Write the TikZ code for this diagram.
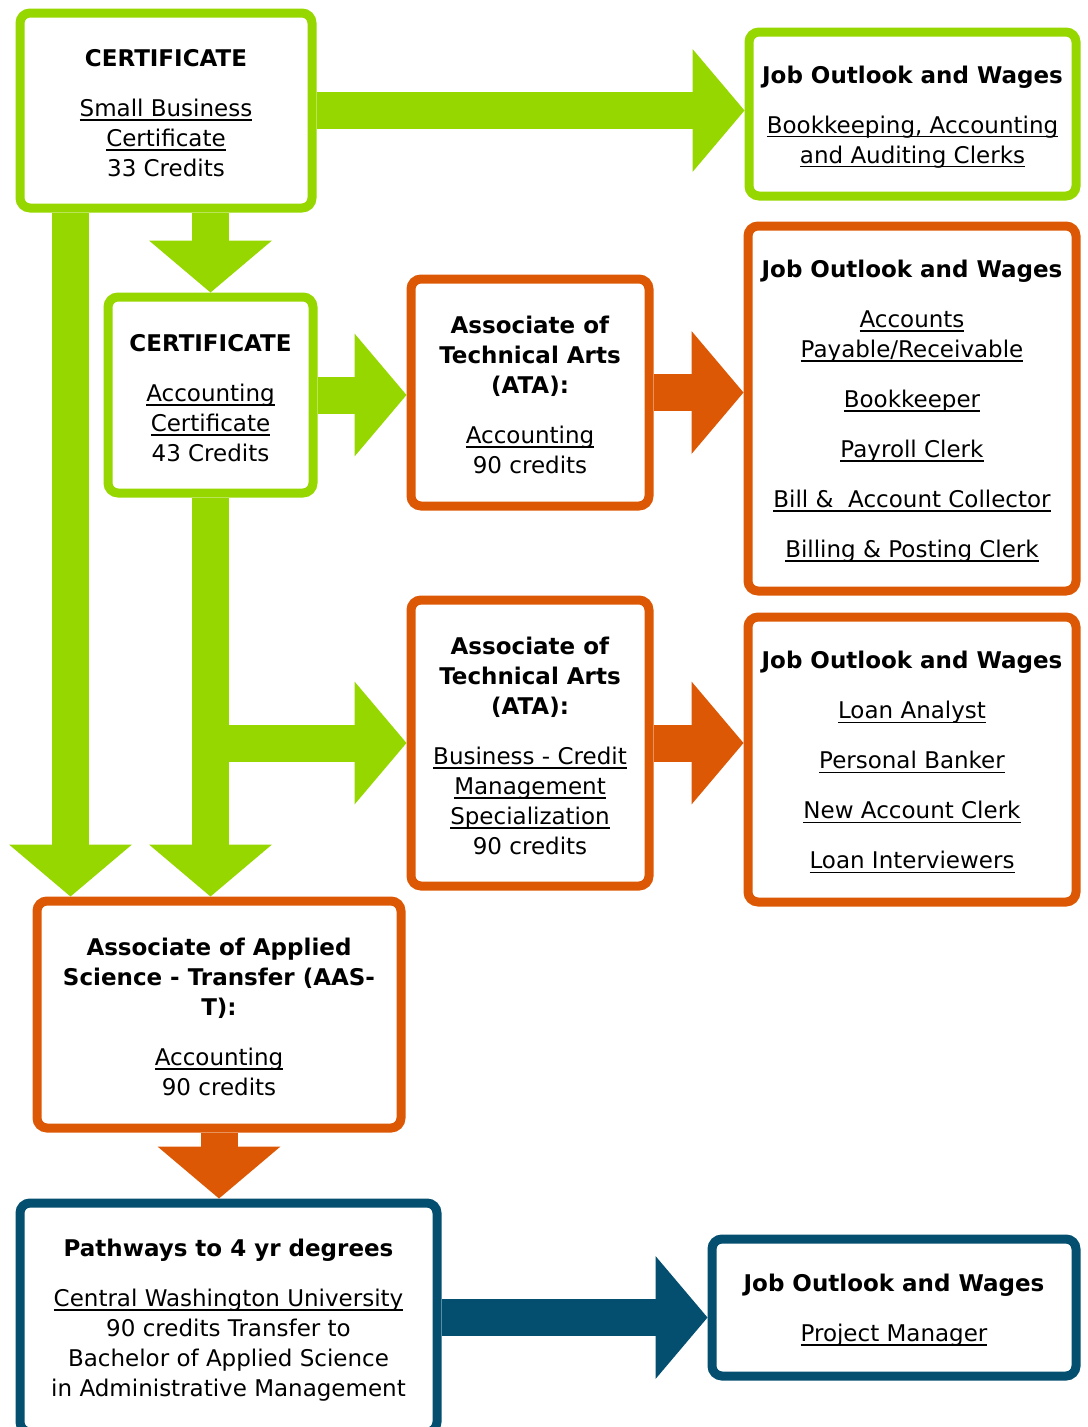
\documentclass[tikz,border=0pt]{standalone}
\usepackage{fontspec}
\setmainfont{DejaVu Sans}
\usetikzlibrary{arrows.meta}
\definecolor{cgreen}{RGB}{151,215,0}
\definecolor{corange}{RGB}{220,88,5}
\definecolor{cblue}{RGB}{4,78,111}
\newcommand\lnk[1]{\setbox0\hbox{#1}\rlap{\rule[-4.2pt]{\wd0}{1.6pt}}\box0}
\newcommand\hd[1]{\rule{0pt}{23pt}\textbf{#1}}

\begin{document}
\begin{tikzpicture}[x=1pt,y=-1pt]
\tikzstyle{box}=[draw,fill=white,rounded corners=10pt,line width=9pt,inner sep=0pt,align=center,font=\fontsize{23}{30}\selectfont]
\tikzstyle{blockarrow}=[line width=37pt,-{Triangle[length=52pt,width=123pt,line width=0pt]}]
\useasboundingbox (0,0) rectangle (1087,1427);
\node[box,draw=cgreen,minimum width=292,minimum height=195] (smallbiz) at (166,110.5)
  {\hd{CERTIFICATE}\\[20pt]\lnk{Small Business}\\\lnk{Certificate}\\33 Credits};
\node[box,draw=cgreen,minimum width=327,minimum height=164] (jobsA) at (912.5,114)
  {\hd{Job Outlook and Wages}\\[20pt]\lnk{Bookkeeping, Accounting}\\\lnk{and Auditing Clerks}};
\node[box,draw=cgreen,minimum width=205,minimum height=196] (acctcert) at (210.5,395)
  {\hd{CERTIFICATE}\\[20pt]\lnk{Accounting}\\\lnk{Certificate}\\43 Credits};
\node[box,draw=corange,minimum width=238,minimum height=227] (ataacct) at (530,392.5)
  {\hd{Associate of}\\\textbf{Technical Arts}\\\textbf{(ATA):}\\[20pt]\lnk{Accounting}\\90 credits};
\node[box,draw=corange,minimum width=328,minimum height=365] (jobsB) at (912,408.5)
  {\hd{Job Outlook and Wages}\\[20pt]\lnk{Accounts}\\\lnk{Payable/Receivable}\\[20pt]\lnk{Bookkeeper}\\[20pt]\lnk{Payroll Clerk}\\[20pt]\lnk{Bill \&~~Account Collector}\\[20pt]\lnk{Billing \& Posting Clerk}};
\node[box,draw=corange,minimum width=238,minimum height=286] (atabus) at (530,743)
  {\hd{Associate of}\\\textbf{Technical Arts}\\\textbf{(ATA):}\\[20pt]\lnk{Business - Credit}\\\lnk{Management}\\\lnk{Specialization}\\90 credits};
\node[box,draw=corange,minimum width=328,minimum height=285] (jobsC) at (912,759.5)
  {\hd{Job Outlook and Wages}\\[20pt]\lnk{Loan Analyst}\\[20pt]\lnk{Personal Banker}\\[20pt]\lnk{New Account Clerk}\\[20pt]\lnk{Loan Interviewers}};
\node[box,draw=corange,minimum width=364,minimum height=227] (aast) at (219,1014.5)
  {\hd{Associate of Applied}\\\textbf{Science - Transfer (AAS-}\\\textbf{T):}\\[20pt]\lnk{Accounting}\\90 credits};
\node[box,draw=cblue,minimum width=417,minimum height=229] (pathways) at (228.5,1317.5)
  {\hd{Pathways to 4 yr degrees}\\[20pt]\lnk{Central Washington University}\\90 credits Transfer to\\Bachelor of Applied Science\\in Administrative Management};
\node[box,draw=cblue,minimum width=364,minimum height=137] (jobsD) at (894,1307.5)
  {\hd{Job Outlook and Wages}\\[20pt]\lnk{Project Manager}};
% block arrows
\draw[blockarrow,cgreen] (smallbiz.east) -- (smallbiz.east -| jobsA.west);
\draw[blockarrow,cgreen] (acctcert.north |- smallbiz.south) -- (acctcert.north);
\draw[blockarrow,cgreen] ([xshift=55]smallbiz.south west) -- ([xshift=55]smallbiz.south west |- aast.north);
\draw[blockarrow,cgreen] (acctcert.south) -- (acctcert.south |- aast.north);
\draw[blockarrow,cgreen] (acctcert.east) -- (acctcert.east -| ataacct.west);
\draw[blockarrow,cgreen] (acctcert.south |- atabus.west) -- (atabus.west);
\draw[blockarrow,corange] (ataacct.east) -- (ataacct.east -| jobsB.west);
\draw[blockarrow,corange] (atabus.east) -- (atabus.east -| jobsC.west);
\draw[blockarrow,corange] (aast.south) -- (aast.south |- pathways.north);
\draw[blockarrow,cblue] (pathways.east) -- (pathways.east -| jobsD.west);
\end{tikzpicture}
\end{document}
